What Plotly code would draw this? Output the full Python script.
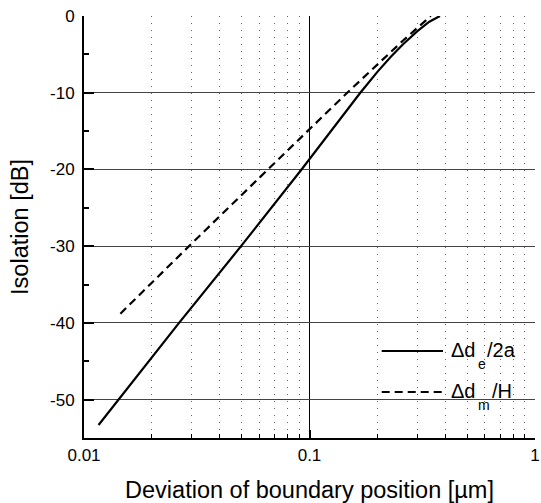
import plotly.graph_objects as go

# Data
solid_x = [0.0116, 0.0142, 0.0264, 0.0497, 0.0922, 0.168, 0.2, 0.23, 0.26, 0.3, 0.34, 0.379]
solid_y = [-53.3, -50.0, -40.0, -30.0, -20.0, -10.0, -7.28, -5.28, -3.68, -2.0, -0.75, 0.0]
dash_x = [0.0145, 0.0292, 0.0654, 0.1, 0.147, 0.26, 0.345]
dash_y = [-38.8, -30.0, -20.0, -14.7, -10.0, -3.2, 0.0]

x_range_log = [-2, 0]
y_range = [-55, 0]
y_tickvals = [-50, -40, -30, -20, -10, 0]
y_ticktext = ["-50", "-40", "-30", "-20", "-10", "0"]

W, H = 541, 503
L, R, T, B = 84, 1, 16, 65
PW, PH = W - L - R, H - T - B

def px(v):
    return (v - L) / PW

def py(v):
    return (H - B - v) / PH

FONT = "Liberation Sans, Arial, sans-serif"

fig = go.Figure()
fig.add_trace(go.Scatter(x=solid_x, y=solid_y, mode="lines",
                         line=dict(color="black", width=2.2), showlegend=False))
fig.add_trace(go.Scatter(x=dash_x, y=dash_y, mode="lines",
                         line=dict(color="black", width=2.2, dash="8px,5px"), showlegend=False))

fig.update_layout(
    width=W, height=H, autosize=False,
    margin=dict(l=L, r=R, t=T, b=B),
    paper_bgcolor="white", plot_bgcolor="white",
    font=dict(family=FONT, color="black"),
    showlegend=False,
)

fig.update_xaxes(
    type="log", range=x_range_log, dtick=1,
    showline=True, linewidth=2, linecolor="black",
    ticks="inside", ticklen=8, tickwidth=1.5, tickcolor="black",
    showgrid=True, gridcolor="black", gridwidth=1,
    tickfont=dict(size=17), ticklabelstandoff=1, ticklabeloverflow="allow",
    minor=dict(dtick="D1", ticks="inside", ticklen=4, tickwidth=1, tickcolor="black",
               showgrid=True, gridcolor="#666666", gridwidth=1, griddash="1px,6px"),
    title=dict(text="Deviation of boundary position [\u00b5m]", font=dict(size=23.5), standoff=18),
)
fig.update_yaxes(
    range=y_range, tickmode="array", tickvals=y_tickvals, ticktext=y_ticktext,
    showline=True, linewidth=2, linecolor="black",
    ticks="inside", ticklen=10, tickwidth=2, tickcolor="black",
    showgrid=True, gridcolor="#444444", gridwidth=1, zeroline=False,
    tickfont=dict(size=17), ticklabelstandoff=4,
    minor=dict(tickmode="linear", tick0=0, dtick=5, ticks="inside", ticklen=5, tickwidth=1.5,
               tickcolor="black", showgrid=False),
    title=dict(text="Isolation [dB]", font=dict(size=23.5), standoff=15),
)

# Legend drawn in paper coordinates
shapes = [
    dict(type="rect", xref="paper", yref="paper", x0=px(368), x1=px(538), y0=py(436), y1=py(327),
         fillcolor="white", line=dict(width=0), layer="between"),
    dict(type="line", xref="paper", yref="paper", x0=px(385), x1=px(447), y0=py(351), y1=py(351),
         line=dict(color="black", width=2.2), layer="above"),
    dict(type="line", xref="paper", yref="paper", x0=px(385), x1=px(447), y0=py(392), y1=py(392),
         line=dict(color="black", width=2.2, dash="8px,5px"), layer="above"),
]
fig.update_layout(shapes=shapes)

ann = []
def txt(s, x, y, size):
    ann.append(dict(text=s, xref="paper", yref="paper", x=px(x), y=py(y), xanchor="left",
                    yanchor="middle", showarrow=False, font=dict(size=size, family=FONT, color="black")))

txt("\u0394d", 453, 350, 20)
txt("e", 480, 364, 14)
txt("/2a", 489, 350, 20)
txt("\u0394d", 453, 391, 20)
txt("m", 480, 405, 14)
txt("/H", 494, 391, 20)
fig.update_layout(annotations=ann)

fig.write_html("out.html")
